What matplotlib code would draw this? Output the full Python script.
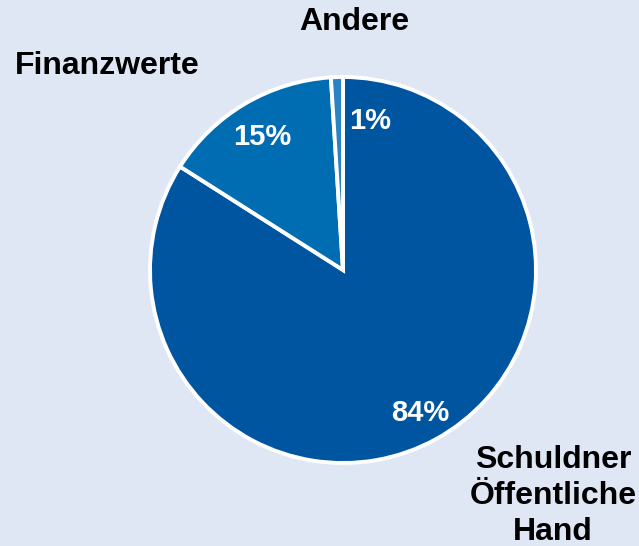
import matplotlib
matplotlib.use("Agg")
import matplotlib.pyplot as plt

categories = ["Schuldner\nÖffentliche\nHand", "Finanzwerte", "Andere"]
values = [84, 15, 1]
pct_labels = ["84%", "15%", "1%"]
colors = ["#0055a0", "#006cb2", "#2b82c3"]
bg = "#dfe7f5"

plt.rcParams['font.family'] = ['Liberation Sans', 'DejaVu Sans']

fig = plt.figure(figsize=(6.39, 5.46), dpi=100, facecolor=bg)
ax = fig.add_axes([0, 0, 1, 1])
ax.set_facecolor(bg)

cx, cy, r = 343, 276, 193
wedges, _ = ax.pie(values, colors=colors, startangle=90, counterclock=False,
                   center=(cx, cy), radius=r, frame=True,
                   wedgeprops=dict(edgecolor='white', linewidth=2.8))
ax.set_xlim(0, 639)
ax.set_ylim(0, 546)
ax.set_aspect('equal')
ax.axis('off')

fs = 23
pfs = 21
# percentage labels
ax.text(420, 546 - 413, pct_labels[0], color='white', fontsize=pfs, fontweight='bold', ha='center', va='center')
ax.text(262, 546 - 137, pct_labels[1], color='white', fontsize=pfs, fontweight='bold', ha='center', va='center')
ax.text(370, 546 - 121, pct_labels[2], color='white', fontsize=pfs, fontweight='bold', ha='center', va='center')

# category labels
ax.text(553, 546 - 496, categories[0], color='black', fontsize=fs, fontweight='bold',
        ha='center', va='center', linespacing=1.27)
ax.text(107, 546 - 66, categories[1], color='black', fontsize=fs, fontweight='bold', ha='center', va='center')
ax.text(354, 546 - 22, categories[2], color='black', fontsize=fs, fontweight='bold', ha='center', va='center')

fig.savefig("out.png", dpi=100, facecolor=bg)
